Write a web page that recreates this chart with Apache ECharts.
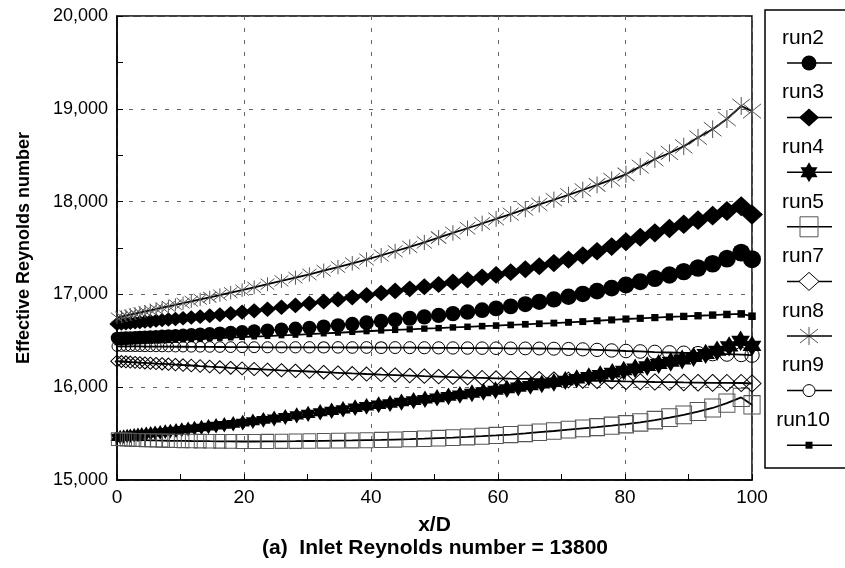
<!DOCTYPE html>
<html>
<head>
<meta charset="utf-8">
<script src="https://cdn.jsdelivr.net/npm/echarts@6/dist/echarts.min.js"></script>
<style>
html,body{margin:0;padding:0;background:#fff;}
#chart{width:845px;height:568px;}
</style>
</head>
<body>
<div id="chart"></div>
<script>
// x/D positions of the plotted points (shared by most runs)
const xs = [0,0.7,1.4,2.1,2.85,3.6,4.4,5.25,6.15,7.1,8.1,9.2,10.4,11.7,13.1,14.6,16.2,17.9,19.7,21.6,23.7,25.9,28.1,30.3,32.55,34.8,37.05,39.3,41.6,43.8,46.1,48.4,50.65,52.9,55.2,57.5,59.7,62.0,64.3,66.5,68.8,71.1,73.35,75.6,77.9,80.15,82.4,84.7,87.0,89.25,91.5,93.8,96.05,98.3,100];
// run4 is sampled more densely
const xs4 = [0,0.5,1.05,1.6,2.1,2.7,3.3,3.9,4.6,5.3,6.0,6.8,7.6,8.4,9.3,10.2,11.2,12.2,13.3,14.4,15.6,16.9,18.3,19.8,21.4,23.05,24.75,26.5,28.3,30.1,32.0,33.8,35.6,37.5,39.3,41.2,43.0,44.8,46.7,48.5,50.4,52.2,54.0,55.9,57.7,59.6,61.4,63.2,65.1,66.9,68.8,70.6,72.4,74.3,76.1,78.0,79.8,81.6,83.5,85.3,87.2,89.0,90.8,92.7,94.5,96.4,98.2,100];

const run2 = [16530,16532,16534,16536,16538,16540,16543,16545,16548,16551,16554,16557,16561,16566,16571,16577,16583,16590,16598,16605,16613,16622,16631,16641,16653,16666,16680,16695,16711,16726,16742,16758,16775,16793,16811,16830,16849,16871,16895,16920,16946,16975,17005,17036,17068,17102,17137,17173,17209,17245,17285,17330,17385,17450,17380];
const run3 = [16680,16684,16688,16692,16697,16701,16706,16711,16717,16723,16729,16735,16743,16751,16760,16770,16781,16794,16808,16823,16841,16861,16881,16902,16924,16946,16968,16991,17015,17037,17060,17083,17107,17131,17157,17184,17210,17240,17272,17304,17338,17375,17418,17465,17515,17568,17615,17664,17710,17755,17800,17848,17898,17950,17860];
const run4 = [15460,15464,15468,15473,15477,15482,15486,15491,15497,15502,15508,15514,15521,15527,15534,15542,15550,15558,15566,15575,15585,15595,15606,15618,15633,15648,15663,15679,15696,15713,15730,15746,15762,15779,15794,15810,15825,15840,15855,15870,15886,15902,15917,15934,15950,15967,15983,16000,16018,16035,16053,16072,16092,16113,16134,16157,16180,16203,16227,16250,16274,16298,16325,16358,16393,16440,16500,16445];
const run5 = [15440,15438,15436,15434,15432,15431,15429,15428,15426,15425,15423,15422,15421,15420,15419,15418,15417,15416,15415,15415,15416,15417,15418,15420,15422,15424,15426,15429,15432,15436,15440,15445,15451,15457,15464,15472,15480,15490,15502,15515,15528,15542,15556,15570,15585,15601,15620,15645,15672,15702,15738,15776,15828,15890,15810];
const run7 = [16280,16277,16274,16271,16268,16265,16262,16259,16255,16252,16248,16244,16239,16234,16228,16222,16216,16209,16202,16196,16189,16182,16176,16169,16162,16155,16148,16142,16136,16131,16125,16119,16114,16109,16104,16100,16096,16092,16089,16086,16082,16078,16074,16070,16066,16062,16059,16056,16054,16051,16049,16047,16046,16045,16040];
const run8 = [16750,16760,16771,16782,16793,16804,16816,16829,16842,16857,16872,16888,16906,16926,16947,16969,16993,17019,17046,17076,17110,17145,17180,17215,17255,17295,17335,17376,17420,17465,17512,17560,17612,17662,17713,17764,17813,17865,17918,17970,18020,18072,18125,18180,18236,18294,18377,18456,18524,18595,18690,18780,18890,19030,18975];
const run9 = [16440,16440,16440,16439,16439,16439,16438,16438,16438,16437,16437,16436,16436,16435,16435,16434,16433,16432,16431,16431,16430,16430,16430,16430,16429,16429,16428,16428,16427,16427,16426,16425,16424,16423,16422,16421,16420,16419,16418,16417,16415,16412,16408,16402,16396,16390,16385,16379,16374,16369,16364,16360,16356,16352,16345];
const run10 = [16480,16482,16484,16486,16489,16491,16493,16496,16498,16501,16504,16507,16511,16515,16519,16524,16529,16534,16539,16545,16551,16558,16564,16571,16579,16587,16595,16603,16611,16617,16624,16631,16637,16644,16651,16658,16664,16671,16678,16684,16691,16699,16707,16716,16725,16735,16742,16750,16757,16763,16770,16777,16784,16790,16765];

const xTicks = [0,20,40,60,80,100];
const yTicks = [15000,16000,17000,18000,19000,20000];
const xName = 'x/D';
const yName = 'Effective Reynolds number';
const caption = '(a)  Inlet Reynolds number = 13800';

const FONT = '"Liberation Sans", Arial, Helvetica, sans-serif';
const STAR = 'path://M10,0 L18.66,15 L1.34,15 Z M10,20 L1.34,5 L18.66,5 Z';
const ASTER = 'path://M0,2 L20,18 M20,2 L0,18 M10,0 L10,20';

const chart = echarts.init(document.getElementById('chart'), null, {renderer:'canvas'});

// marker size grows along the duct (style only)
function baseSize(x){ return 12.5 + 0.055 * x; }

const defs = [
  {name:'run2', x:xs, data:run2, symbol:'circle', fw:1.0, fh:1.0, fill:'#000', stroke:'#000', bw:0},
  {name:'run3', x:xs, data:run3, symbol:'diamond', fw:1.22, fh:1.12, fill:'#000', stroke:'#000', bw:0},
  {name:'run4', x:xs4, data:run4, symbol:STAR, fw:1.05, fh:1.15, fill:'#000', stroke:'#000', bw:0},
  {name:'run5', x:xs, data:run5, symbol:'rect', fw:0.9, fh:1.02, fill:'rgba(0,0,0,0)', stroke:'#555', bw:1},
  {name:'run7', x:xs, data:run7, symbol:'diamond', fw:1.0, fh:0.95, fill:'rgba(0,0,0,0)', stroke:'#000', bw:1},
  {name:'run8', x:xs, data:run8, symbol:ASTER, fw:1.0, fh:1.0, fill:'rgba(0,0,0,0)', stroke:'#555', bw:1},
  {name:'run9', x:xs, data:run9, symbol:'circle', fw:0.8, fh:0.8, fill:'rgba(0,0,0,0)', stroke:'#000', bw:1},
  {name:'run10', x:xs, data:run10, symbol:'rect', fw:0.42, fh:0.42, fill:'#000', stroke:'#000', bw:0}
];

const series = defs.map(d => ({
  name: d.name,
  type: 'line',
  data: d.x.map((x, i) => [x, d.data[i]]),
  symbol: d.symbol,
  showAllSymbol: true,
  symbolSize: function (v) { const s = baseSize(v[0]); return [s * d.fw, s * d.fh]; },
  itemStyle: {color: d.fill, borderColor: d.stroke, borderWidth: d.bw},
  lineStyle: {color: '#000', width: 1.8},
  emphasis: {disabled: true},
  animation: false
}));

// legend drawn as graphic (text above sample line)
const g = [];
g.push({type:'rect', shape:{x:765, y:10, width:120, height:458}, style:{fill:'none', stroke:'#000', lineWidth:1.5}, z:10});
defs.forEach((d, i) => {
  const ty = 38 + 54.6 * i, ly = 63 + 54.6 * i, cx = 809;
  g.push({type:'text', x:803, y:ty, style:{text:d.name, fontSize:21, fontFamily:FONT, fill:'#000', align:'center', verticalAlign:'middle'}, z:10});
  g.push({type:'line', shape:{x1:787, y1:ly, x2:832, y2:ly}, style:{stroke:'#000', lineWidth:1.5}, z:10});
  let el;
  if (d.name === 'run2') el = {type:'circle', shape:{cx:cx, cy:ly, r:7.5}, style:{fill:'#000'}};
  else if (d.name === 'run3') el = {type:'polygon', shape:{points:[[cx,ly-9],[cx+10,ly],[cx,ly+9],[cx-10,ly]]}, style:{fill:'#000'}};
  else if (d.name === 'run4') el = {type:'group', children:[
      {type:'polygon', shape:{points:[[cx,ly-10],[cx+8.5,ly+5],[cx-8.5,ly+5]]}, style:{fill:'#000'}},
      {type:'polygon', shape:{points:[[cx,ly+10],[cx+8.5,ly-5],[cx-8.5,ly-5]]}, style:{fill:'#000'}}]};
  else if (d.name === 'run5') el = {type:'rect', shape:{x:cx-9, y:ly-10, width:18, height:20}, style:{fill:'none', stroke:'#555', lineWidth:1}};
  else if (d.name === 'run7') el = {type:'polygon', shape:{points:[[cx,ly-9],[cx+10,ly],[cx,ly+9],[cx-10,ly]]}, style:{fill:'#fff', stroke:'#000', lineWidth:1}};
  else if (d.name === 'run8') el = {type:'group', children:[
      {type:'line', shape:{x1:cx-9, y1:ly-7, x2:cx+9, y2:ly+7}, style:{stroke:'#555', lineWidth:1}},
      {type:'line', shape:{x1:cx+9, y1:ly-7, x2:cx-9, y2:ly+7}, style:{stroke:'#555', lineWidth:1}},
      {type:'line', shape:{x1:cx, y1:ly-9, x2:cx, y2:ly+9}, style:{stroke:'#555', lineWidth:1}}]};
  else if (d.name === 'run9') el = {type:'circle', shape:{cx:cx, cy:ly, r:6}, style:{fill:'#fff', stroke:'#000', lineWidth:1}};
  else el = {type:'rect', shape:{x:cx-3.5, y:ly-3.5, width:7, height:7}, style:{fill:'#000'}};
  el.z = 11;
  g.push(el);
});
g.push({type:'text', x:435, y:548, style:{text:caption, fontSize:21, fontWeight:'bold', fontFamily:FONT, fill:'#000', align:'center', verticalAlign:'middle'}, z:10});

const option = {
  animation: false,
  backgroundColor: '#fff',
  grid: {left:117, right:93, top:16, bottom:88, show:true, borderColor:'#000', borderWidth:1.5, backgroundColor:'rgba(0,0,0,0)'},
  xAxis: {
    type:'value', min:xTicks[0], max:xTicks[xTicks.length-1], interval:20,
    name:xName, nameLocation:'middle', nameGap:35,
    nameTextStyle:{fontSize:21, fontWeight:'bold', fontFamily:FONT, color:'#000'},
    axisLine:{show:true, lineStyle:{color:'#000', width:1.5}},
    axisTick:{show:true, inside:true, length:6, lineStyle:{color:'#000', width:1}},
    minorTick:{show:true, splitNumber:2, length:6, lineStyle:{color:'#000', width:1}},
    splitLine:{show:true, lineStyle:{color:'#666', width:1, type:[4,8]}},
    axisLabel:{fontSize:19, fontFamily:FONT, color:'#000', margin:8}
  },
  yAxis: {
    type:'value', min:yTicks[0], max:yTicks[yTicks.length-1], interval:1000,
    name:yName, nameLocation:'middle', nameGap:84, nameRotate:90,
    nameTextStyle:{fontSize:18, fontWeight:'bold', fontFamily:FONT, color:'#000'},
    axisLine:{show:true, lineStyle:{color:'#000', width:1.5}},
    axisTick:{show:true, inside:true, length:6, lineStyle:{color:'#000', width:1}},
    minorTick:{show:true, splitNumber:2, length:6, lineStyle:{color:'#000', width:1}},
    splitLine:{show:true, lineStyle:{color:'#666', width:1, type:[4,8]}},
    axisLabel:{fontSize:18, fontFamily:FONT, color:'#000', margin:9, formatter: v => v.toLocaleString('en-US')}
  },
  series: series,
  graphic: g
};
chart.setOption(option);
</script>
</body>
</html>
